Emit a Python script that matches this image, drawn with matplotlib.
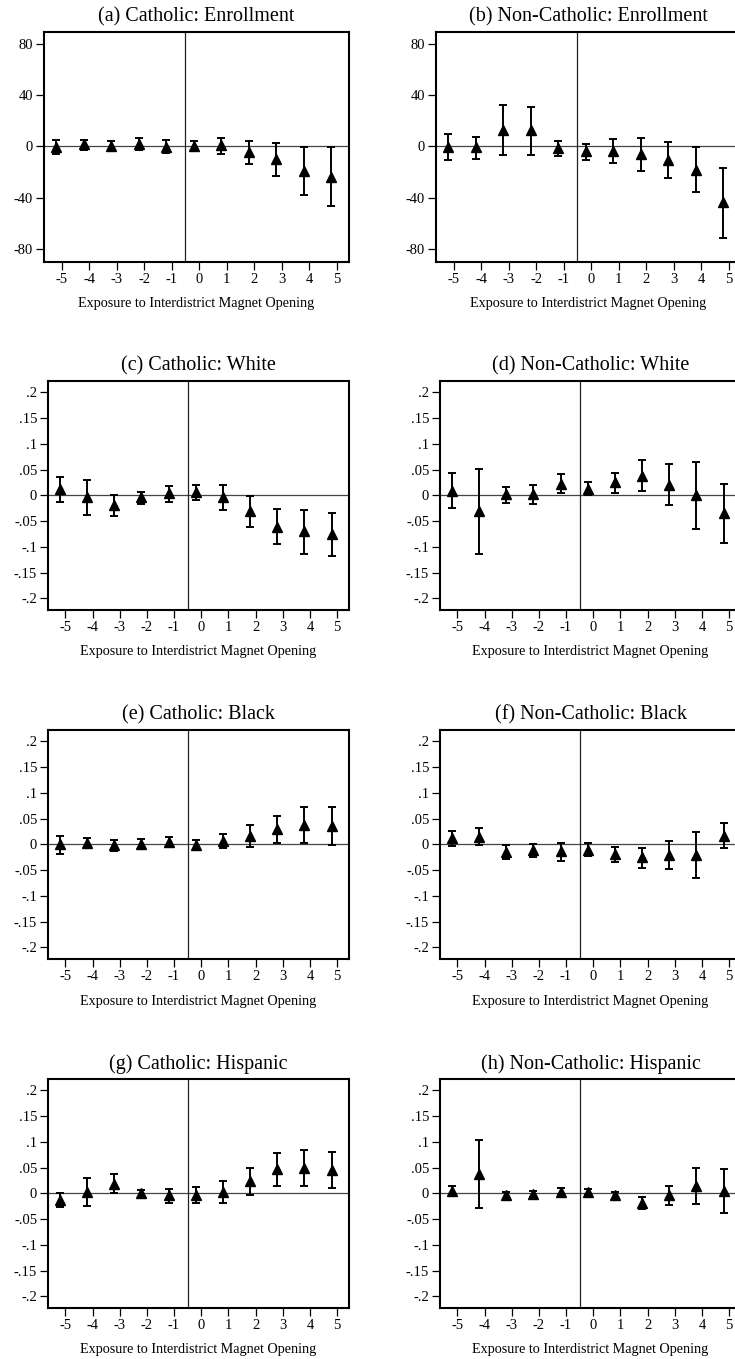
import matplotlib
matplotlib.use("Agg")
import matplotlib.pyplot as plt
import numpy as np

plt.rcParams['font.family'] = ['Liberation Serif', 'DejaVu Serif']

# event time relative to the interdistrict magnet opening
event_time = [-5, -4, -3, -2, -1, 0, 1, 2, 3, 4, 5]
x_labels = ['-5', '-4', '-3', '-2', '-1', '0', '1', '2', '3', '4', '5']

enroll_ticks = [80, 40, 0, -40, -80]
enroll_tick_labels = ['80', '40', '0', '-40', '-80']
share_ticks = [0.2, 0.15, 0.1, 0.05, 0, -0.05, -0.1, -0.15, -0.2]
share_tick_labels = ['.2', '.15', '.1', '.05', '0', '-.05', '-.1', '-.15', '-.2']

titles = ['(a) Catholic: Enrollment', '(b) Non-Catholic: Enrollment',
          '(c) Catholic: White', '(d) Non-Catholic: White',
          '(e) Catholic: Black', '(f) Non-Catholic: Black',
          '(g) Catholic: Hispanic', '(h) Non-Catholic: Hispanic']

# (a) Catholic: Enrollment
a_est = [-0.5, 1.5, 0.5, 2.0, -0.3, 0.0, 1.0, -4.5, -9.5, -19.0, -23.5]
a_lo = [-6.0, -2.5, -4.0, -2.5, -5.5, -4.0, -6.0, -13.5, -23.0, -37.5, -46.5]
a_hi = [4.7, 5.0, 4.4, 6.8, 4.7, 4.0, 6.8, 4.4, 3.0, -0.5, -0.5]

# (b) Non-Catholic: Enrollment
b_est = [-0.5, -0.8, 13.0, 12.5, -1.3, -3.6, -3.4, -5.8, -10.8, -18.6, -43.5]
b_lo = [-10.4, -9.5, -6.5, -7.0, -7.8, -10.3, -12.6, -19.0, -25.0, -35.8, -71.0]
b_hi = [9.4, 7.3, 32.0, 31.0, 4.2, 1.6, 5.5, 6.2, 3.4, -0.8, -17.0]

# (c) Catholic: White
c_est = [0.012, -0.003, -0.019, -0.004, 0.004, 0.006, -0.003, -0.030, -0.061, -0.070, -0.075]
c_lo = [-0.013, -0.038, -0.040, -0.016, -0.012, -0.009, -0.028, -0.061, -0.095, -0.113, -0.118]
c_hi = [0.035, 0.029, 0.001, 0.007, 0.019, 0.021, 0.020, -0.001, -0.027, -0.028, -0.034]

# (d) Non-Catholic: White
d_est = [0.009, -0.030, 0.002, 0.002, 0.023, 0.013, 0.025, 0.038, 0.020, 0.000, -0.035]
d_lo = [-0.025, -0.113, -0.014, -0.016, 0.005, 0.000, 0.005, 0.008, -0.019, -0.066, -0.092]
d_hi = [0.044, 0.051, 0.017, 0.020, 0.041, 0.025, 0.043, 0.069, 0.060, 0.065, 0.022]

# (e) Catholic: Black
e_est = [0.000, 0.002, -0.002, 0.001, 0.004, -0.001, 0.006, 0.016, 0.030, 0.037, 0.035]
e_lo = [-0.018, -0.008, -0.012, -0.008, -0.006, -0.010, -0.008, -0.005, 0.002, 0.002, -0.001]
e_hi = [0.017, 0.012, 0.009, 0.010, 0.015, 0.009, 0.020, 0.037, 0.056, 0.072, 0.072]

# (f) Non-Catholic: Black
f_est = [0.012, 0.014, -0.015, -0.011, -0.013, -0.010, -0.018, -0.025, -0.020, -0.020, 0.017]
f_lo = [-0.003, -0.002, -0.029, -0.025, -0.032, -0.022, -0.034, -0.045, -0.048, -0.065, -0.008]
f_hi = [0.026, 0.031, -0.002, 0.001, 0.002, 0.002, -0.005, -0.008, 0.006, 0.024, 0.041]

# (g) Catholic: Hispanic
g_est = [-0.013, 0.003, 0.018, 0.000, -0.004, -0.003, 0.003, 0.024, 0.047, 0.050, 0.045]
g_lo = [-0.027, -0.024, 0.000, -0.007, -0.019, -0.019, -0.018, -0.003, 0.015, 0.015, 0.010]
g_hi = [0.000, 0.030, 0.037, 0.007, 0.009, 0.013, 0.024, 0.050, 0.078, 0.085, 0.080]

# (h) Non-Catholic: Hispanic
h_est = [0.005, 0.038, -0.003, -0.001, 0.003, 0.002, -0.004, -0.018, -0.003, 0.015, 0.005]
h_lo = [-0.001, -0.028, -0.012, -0.007, -0.004, -0.003, -0.010, -0.031, -0.023, -0.020, -0.038]
h_hi = [0.015, 0.104, 0.003, 0.005, 0.011, 0.009, 0.002, -0.007, 0.015, 0.050, 0.047]

panels = [(a_est, a_lo, a_hi), (b_est, b_lo, b_hi), (c_est, c_lo, c_hi), (d_est, d_lo, d_hi),
          (e_est, e_lo, e_hi), (f_est, f_lo, f_hi), (g_est, g_lo, g_hi), (h_est, h_lo, h_hi)]

W, H = 735, 1359
fig = plt.figure(figsize=(W / 100, H / 100), dpi=100)
fig.patch.set_facecolor('white')

# panel frames in pixels: left, top, width, height
boxes = [(44, 32, 305, 230), (436, 32, 305, 230),
         (48, 381, 301, 229), (440, 381, 301, 229),
         (48, 730, 301, 229), (440, 730, 301, 229),
         (48, 1079, 301, 229), (440, 1079, 301, 229)]

for i, ((est, lo, hi), (l, t, w, h)) in enumerate(zip(panels, boxes)):
    ax = fig.add_axes([l / W, 1 - (t + h) / H, w / W, h / H])
    est = np.array(est)
    yerr = [est - np.array(lo), np.array(hi) - est]
    xpos = np.array(event_time) - 0.2

    ax.axhline(0, color='#444444', lw=0.9, zorder=1)
    ax.axvline(-0.5, color='#222222', lw=0.9, zorder=1)
    ax.errorbar(xpos, est, yerr=yerr, fmt='^', color='black', ms=7,
                ecolor='black', elinewidth=1.4, capsize=2.6, capthick=1.4, zorder=3)

    ax.set_xlim(-5.64, 5.44)
    ax.set_xticks(event_time)
    ax.set_xticklabels(x_labels)
    if i < 2:
        ax.set_ylim(-90, 89)
        ax.set_yticks(enroll_ticks)
        ax.set_yticklabels(enroll_tick_labels)
    else:
        ax.set_ylim(-0.2225, 0.222)
        ax.set_yticks(share_ticks)
        ax.set_yticklabels(share_tick_labels)

    for s in ax.spines.values():
        s.set_linewidth(1.5)
    ax.tick_params(axis='both', direction='out', length=5.8, width=0.9,
                   labelsize=10.5, pad=2)

    ax.set_xlabel('Exposure to Interdistrict Magnet Opening', fontsize=10.2)
    ax.xaxis.label.set_va('center')
    ax.xaxis.set_label_coords(0.5, -42 / h)
    ax.text(0.5, 1 + 15 / h, titles[i], transform=ax.transAxes,
            ha='center', va='center', fontsize=14.5)

fig.savefig('out.png', dpi=100)
